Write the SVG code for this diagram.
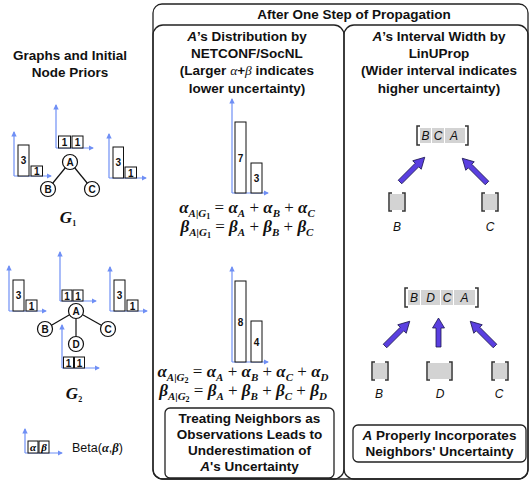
<svg xmlns="http://www.w3.org/2000/svg" width="530" height="481" viewBox="0 0 530 481">
<defs>
<marker id="ah" viewBox="0 0 6 6" refX="5" refY="3" markerWidth="4.5" markerHeight="4.5" orient="auto"><path d="M0,0 L6,3 L0,6 z" fill="#6f8ff5"/></marker>
<style>
.t{font-family:"Liberation Sans",Arial,sans-serif;font-weight:bold;font-size:13.5px;text-anchor:middle;fill:#111}
.ax{stroke:#6f8ff5;stroke-width:1.2;fill:none;marker-end:url(#ah)}
.bar{fill:#fff;stroke:#111;stroke-width:1}
.n{font-family:"Liberation Sans",Arial,sans-serif;font-weight:bold;font-size:10px;text-anchor:middle;fill:#111}
.nc{fill:#fff;stroke:#111;stroke-width:1.2}
.edge{stroke:#111;stroke-width:1.2;fill:none}
.frm{font-family:"Liberation Serif","Times New Roman",serif;font-size:17px;font-weight:bold;font-style:italic;fill:#111;text-anchor:middle}
.sb{font-size:11px}
.ss{font-size:8px;font-style:normal}
.op{font-style:normal;font-weight:normal}
.panel{fill:none;stroke:#222;stroke-width:1.3}
.iv{fill:#d3d3d3}
.br{fill:none;stroke:#333;stroke-width:1.5}
.lab{font-family:"Liberation Sans",Arial,sans-serif;font-style:italic;font-size:12px;text-anchor:middle;fill:#111}
.arr{fill:#5a3fe0;stroke:#1c1850;stroke-width:0.8}
.gl{font-family:"Liberation Serif","Times New Roman",serif;font-size:17px;font-weight:bold;font-style:italic;fill:#111;text-anchor:middle}
</style>
</defs>
<rect width="530" height="481" fill="#fff"/>

<g id="left-title">
<text class="t" x="70" y="60">Graphs and Initial</text>
<text class="t" x="70" y="77">Node Priors</text>
</g>

<g id="frames">
<rect class="panel" x="153" y="4" width="375" height="475" rx="9"/>
<rect class="panel" x="153" y="25" width="191" height="454" rx="10"/>
<rect class="panel" x="344" y="25" width="184" height="454" rx="10"/>
<text class="t" x="354" y="19">After One Step of Propagation</text>
</g>

<g id="panel-left-title">
<text class="t" x="247" y="41"><tspan font-style="italic">A</tspan>’s Distribution by</text>
<text class="t" x="247" y="58">NETCONF/SocNL</text>
<text class="t" x="247" y="75">(Larger <tspan font-family="Liberation Serif" font-style="italic" font-weight="normal">α</tspan>+<tspan font-family="Liberation Serif" font-style="italic" font-weight="normal">β</tspan> indicates</text>
<text class="t" x="247" y="93">lower uncertainty)</text>
</g>

<g id="panel-right-title">
<text class="t" x="439" y="41"><tspan font-style="italic">A</tspan>’s Interval Width by</text>
<text class="t" x="439" y="58">LinUProp</text>
<text class="t" x="439" y="75">(Wider interval indicates</text>
<text class="t" x="439" y="93">higher uncertainty)</text>
</g>

<!-- G1 graph -->
<g id="g1-edges">
<line class="edge" x1="70" y1="162" x2="48" y2="189"/>
<line class="edge" x1="70" y1="162" x2="92" y2="189"/>
</g>
<g id="g1-A"><circle class="nc" cx="70" cy="162" r="7.5"/><text class="n" x="70" y="165.5">A</text></g>
<g id="g1-B"><circle class="nc" cx="48" cy="189" r="7.5"/><text class="n" x="48" y="192.5">B</text></g>
<g id="g1-C"><circle class="nc" cx="92" cy="189" r="7.5"/><text class="n" x="92" y="192.5">C</text></g>

<g id="g1-hist-B">
<line class="ax" x1="14" y1="176" x2="14" y2="132"/>
<line class="ax" x1="14" y1="176" x2="51" y2="176"/>
<rect class="bar" x="18" y="145" width="11" height="31"/><text class="n" x="23.5" y="164">3</text>
<rect class="bar" x="31" y="166" width="11.5" height="10"/><text class="n" x="36.7" y="175">1</text>
</g>
<g id="g1-hist-A">
<line class="ax" x1="56" y1="148" x2="56" y2="105"/>
<line class="ax" x1="56" y1="148" x2="93" y2="148"/>
<rect class="bar" x="58.5" y="136" width="12" height="12"/><text class="n" x="64.5" y="146">1</text>
<rect class="bar" x="72" y="136" width="11" height="12"/><text class="n" x="77.5" y="146">1</text>
</g>
<g id="g1-hist-C">
<line class="ax" x1="109" y1="178" x2="109" y2="134"/>
<line class="ax" x1="109" y1="178" x2="146" y2="178"/>
<rect class="bar" x="113" y="147" width="10.5" height="31"/><text class="n" x="118.2" y="166">3</text>
<rect class="bar" x="125" y="167" width="11.5" height="11"/><text class="n" x="130.7" y="176.5">1</text>
</g>
<text id="g1-label" class="gl" x="68" y="223">G<tspan class="ss" font-size="11px" dy="3">1</tspan></text>

<!-- G2 graph -->
<g id="g2-edges">
<line class="edge" x1="76" y1="311" x2="45" y2="329"/>
<line class="edge" x1="76" y1="311" x2="108" y2="329"/>
<line class="edge" x1="76" y1="311" x2="76" y2="344"/>
</g>
<g id="g2-A"><circle class="nc" cx="76" cy="311" r="7.5"/><text class="n" x="76" y="314.5">A</text></g>
<g id="g2-B"><circle class="nc" cx="45" cy="329" r="7.5"/><text class="n" x="45" y="332.5">B</text></g>
<g id="g2-C"><circle class="nc" cx="108" cy="329" r="7.5"/><text class="n" x="108" y="332.5">C</text></g>
<g id="g2-D"><circle class="nc" cx="76" cy="344" r="7.5"/><text class="n" x="76" y="347.5">D</text></g>

<g id="g2-hist-B">
<line class="ax" x1="9" y1="311" x2="9" y2="266"/>
<line class="ax" x1="9" y1="311" x2="46" y2="311"/>
<rect class="bar" x="13" y="280" width="11" height="31"/><text class="n" x="18.5" y="299">3</text>
<rect class="bar" x="26" y="300" width="11" height="11"/><text class="n" x="31.5" y="309.5">1</text>
</g>
<g id="g2-hist-A">
<line class="ax" x1="60" y1="301" x2="60" y2="252"/>
<line class="ax" x1="60" y1="301" x2="96" y2="301"/>
<rect class="bar" x="62" y="290" width="10" height="11"/><text class="n" x="67" y="299.5">1</text>
<rect class="bar" x="73" y="290" width="10" height="11"/><text class="n" x="78" y="299.5">1</text>
</g>
<g id="g2-hist-C">
<line class="ax" x1="110" y1="311" x2="110" y2="267"/>
<line class="ax" x1="110" y1="311" x2="147" y2="311"/>
<rect class="bar" x="114" y="280" width="11" height="31"/><text class="n" x="119.5" y="299">3</text>
<rect class="bar" x="127" y="300" width="11" height="11"/><text class="n" x="132.5" y="309.5">1</text>
</g>
<g id="g2-hist-D">
<line class="ax" x1="62" y1="368" x2="62" y2="325"/>
<line class="ax" x1="62" y1="368" x2="99" y2="368"/>
<rect class="bar" x="63.5" y="357" width="10" height="11"/><text class="n" x="68.5" y="366.5">1</text>
<rect class="bar" x="74.5" y="357" width="10" height="11"/><text class="n" x="79.5" y="366.5">1</text>
</g>
<text id="g2-label" class="gl" x="74" y="399">G<tspan class="ss" font-size="11px" dy="3">2</tspan></text>

<g id="legend">
<line class="ax" x1="25" y1="453" x2="25" y2="429"/>
<line class="ax" x1="25" y1="453" x2="62" y2="453"/>
<rect class="bar" x="28" y="441" width="10" height="12"/>
<rect class="bar" x="39" y="441" width="10" height="12"/>
<text x="33" y="451" font-family="Liberation Serif" font-style="italic" font-weight="bold" font-size="11px" text-anchor="middle">α</text>
<text x="44" y="451" font-family="Liberation Serif" font-style="italic" font-weight="bold" font-size="11px" text-anchor="middle">β</text>
<text x="72" y="452" font-family="Liberation Sans,Arial,sans-serif" font-size="12.5px" fill="#111">Beta(<tspan font-family="Liberation Serif" font-style="italic" font-weight="bold">α</tspan>,<tspan font-family="Liberation Serif" font-style="italic" font-weight="bold">β</tspan>)</text>
</g>

<!-- center histograms -->
<g id="netconf-g1">
<line class="ax" x1="232" y1="193" x2="232" y2="99"/>
<line class="ax" x1="232" y1="193" x2="268" y2="193"/>
<rect class="bar" x="235" y="122" width="11" height="71"/><text class="n" x="240.5" y="162" font-size="11px">7</text>
<rect class="bar" x="251" y="163" width="11" height="30"/><text class="n" x="256.5" y="182" font-size="11px">3</text>
</g>
<g id="formula-g1">
<text class="frm" x="247" y="213">α<tspan class="sb" dy="4">A|G</tspan><tspan class="ss" dy="2">1</tspan><tspan class="op" dy="-6"> = </tspan>α<tspan class="sb" dy="4">A</tspan><tspan class="op" dy="-4"> + </tspan>α<tspan class="sb" dy="4">B</tspan><tspan class="op" dy="-4"> + </tspan>α<tspan class="sb" dy="4">C</tspan></text>
<text class="frm" x="247" y="232">β<tspan class="sb" dy="4">A|G</tspan><tspan class="ss" dy="2">1</tspan><tspan class="op" dy="-6"> = </tspan>β<tspan class="sb" dy="4">A</tspan><tspan class="op" dy="-4"> + </tspan>β<tspan class="sb" dy="4">B</tspan><tspan class="op" dy="-4"> + </tspan>β<tspan class="sb" dy="4">C</tspan></text>
</g>

<g id="netconf-g2">
<line class="ax" x1="232" y1="362" x2="232" y2="267"/>
<line class="ax" x1="232" y1="362" x2="268" y2="362"/>
<rect class="bar" x="235" y="281" width="11" height="81"/><text class="n" x="240.5" y="326" font-size="11px">8</text>
<rect class="bar" x="251" y="321" width="11" height="41"/><text class="n" x="256.5" y="346" font-size="11px">4</text>
</g>
<g id="formula-g2">
<text class="frm" x="243" y="377">α<tspan class="sb" dy="4">A|G</tspan><tspan class="ss" dy="2">2</tspan><tspan class="op" dy="-6"> = </tspan>α<tspan class="sb" dy="4">A</tspan><tspan class="op" dy="-4"> + </tspan>α<tspan class="sb" dy="4">B</tspan><tspan class="op" dy="-4"> + </tspan>α<tspan class="sb" dy="4">C</tspan><tspan class="op" dy="-4"> + </tspan>α<tspan class="sb" dy="4">D</tspan></text>
<text class="frm" x="243" y="396">β<tspan class="sb" dy="4">A|G</tspan><tspan class="ss" dy="2">2</tspan><tspan class="op" dy="-6"> = </tspan>β<tspan class="sb" dy="4">A</tspan><tspan class="op" dy="-4"> + </tspan>β<tspan class="sb" dy="4">B</tspan><tspan class="op" dy="-4"> + </tspan>β<tspan class="sb" dy="4">C</tspan><tspan class="op" dy="-4"> + </tspan>β<tspan class="sb" dy="4">D</tspan></text>
</g>

<g id="netconf-note">
<rect class="panel" x="165" y="408" width="169" height="70" rx="5"/>
<text class="t" x="249.5" y="423">Treating Neighbors as</text>
<text class="t" x="249.5" y="439">Observations Leads to</text>
<text class="t" x="249.5" y="455">Underestimation of</text>
<text class="t" x="249.5" y="471"><tspan font-style="italic">A</tspan>'s Uncertainty</text>
</g>

<!-- LinUProp G1 -->
<g id="lin-g1-A">
<rect class="iv" x="420" y="128" width="11" height="15"/>
<rect class="iv" x="432" y="128" width="12" height="15"/>
<rect class="iv" x="445" y="128" width="20" height="15"/>
<path class="br" d="M420,126 h-3 v19 h3 M465,126 h3 v19 h-3"/>
<text class="lab" x="425.5" y="140">B</text>
<text class="lab" x="438" y="140">C</text>
<text class="lab" x="454" y="140">A</text>
</g>
<g id="lin-g1-B">
<rect class="iv" x="390" y="194" width="14" height="16"/>
<path class="br" d="M392,193 h-3 v18 h3 M402,193 h3 v18 h-3"/>
<text class="lab" x="397" y="231">B</text>
</g>
<g id="lin-g1-C">
<rect class="iv" x="483" y="194" width="14" height="16"/>
<path class="br" d="M485,193 h-3 v18 h3 M495,193 h3 v18 h-3"/>
<text class="lab" x="490" y="231">C</text>
</g>

<!-- LinUProp G2 -->
<g id="lin-g2-A">
<rect class="iv" x="408" y="290" width="12" height="15"/>
<rect class="iv" x="421" y="290" width="19" height="15"/>
<rect class="iv" x="441" y="290" width="12" height="15"/>
<rect class="iv" x="454" y="290" width="21" height="15"/>
<path class="br" d="M408,288 h-3 v19 h3 M475,288 h3 v19 h-3"/>
<text class="lab" x="414" y="302">B</text>
<text class="lab" x="430.5" y="302">D</text>
<text class="lab" x="447" y="302">C</text>
<text class="lab" x="464.5" y="302">A</text>
</g>
<g id="lin-g2-B">
<rect class="iv" x="373" y="363" width="14" height="16"/>
<path class="br" d="M375,362 h-3 v18 h3 M385,362 h3 v18 h-3"/>
<text class="lab" x="379" y="398">B</text>
</g>
<g id="lin-g2-D">
<rect class="iv" x="428" y="363" width="23" height="16"/>
<path class="br" d="M430,362 h-3 v18 h3 M449,362 h3 v18 h-3"/>
<text class="lab" x="440" y="398">D</text>
</g>
<g id="lin-g2-C">
<rect class="iv" x="493" y="363" width="14" height="16"/>
<path class="br" d="M495,362 h-3 v18 h3 M505,362 h3 v18 h-3"/>
<text class="lab" x="499" y="398">C</text>
</g>

<g id="connectors">
<polygon class="arr" points="0,-2.5 24,-2.5 24,-6 35,0 24,6 24,2.5 0,2.5" transform="translate(400,182) rotate(-45)"/>
<polygon class="arr" points="0,-2.5 24,-2.5 24,-6 35,0 24,6 24,2.5 0,2.5" transform="translate(487,183) rotate(-135)"/>
<polygon class="arr" points="0,-2.5 24,-2.5 24,-6 35,0 24,6 24,2.5 0,2.5" transform="translate(385,346) rotate(-45)"/>
<polygon class="arr" points="0,-2.5 19,-2.5 19,-6 29,0 19,6 19,2.5 0,2.5" transform="translate(438.5,347) rotate(-90)"/>
<polygon class="arr" points="0,-2.5 24,-2.5 24,-6 35,0 24,6 24,2.5 0,2.5" transform="translate(495,346) rotate(-135)"/>
</g>

<g id="lin-note">
<rect class="panel" x="353" y="425" width="173" height="37" rx="5"/>
<text class="t" x="439.5" y="440"><tspan font-style="italic">A</tspan> Properly Incorporates</text>
<text class="t" x="439.5" y="456">Neighbors' Uncertainty</text>
</g>
</svg>
